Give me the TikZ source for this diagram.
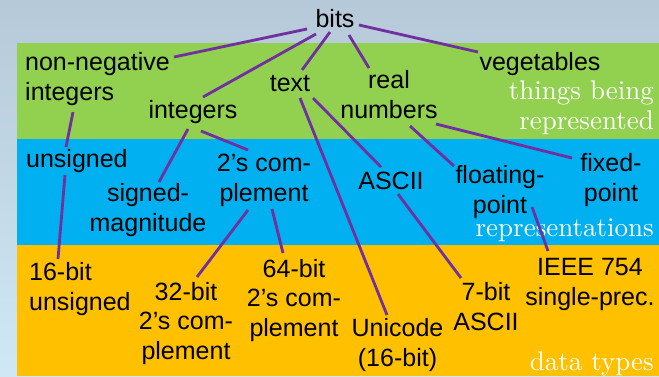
\documentclass[tikz,border=0pt]{standalone}
\usepackage{fontspec}
\newfontfamily\arialface{Liberation Sans}
\newfontfamily\romanface{lmroman10-regular.otf}
\usetikzlibrary{calc}
\definecolor{bandgreen}{RGB}{146,208,80}
\definecolor{bandblue}{RGB}{0,176,240}
\definecolor{bandorange}{RGB}{255,192,0}
\definecolor{linkpurple}{RGB}{112,48,160}
\definecolor{bgtop}{RGB}{182,201,216}
\definecolor{bgbottom}{RGB}{208,232,245}
\tikzset{
  concept/.style={font=\arialface\fontsize{25}{29.5}\selectfont, inner sep=0pt, align=center, anchor=base},
  conceptleft/.style={concept, align=left, anchor=base west},
  layername/.style={font=\romanface\fontsize{27}{30}\selectfont, text=white, inner sep=0pt, align=right, anchor=base east},
  link/.style={draw=linkpurple, line width=2.8pt},
}
\begin{document}
\begin{tikzpicture}[x=1pt, y=-1pt]
  \useasboundingbox (0,0) rectangle (659,376);
  % backdrop and the three layer bands
  \shade[top color=bgtop, bottom color=bgbottom] (0,0) rectangle (659,376);
  \fill[bandgreen]  (17,43)  rectangle (659,139);
  \fill[bandblue]   (17,139) rectangle (659,245);
  \fill[bandorange] (17,245) rectangle (659,376);

  % layer captions (node base = baseline of the last line)
  \node[layername] (things) at (654,129) {things being\\represented};
  \node[layername] (reps)   at (654,236) {representations};
  \node[layername] (dtypes) at (654,370) {data types};

  % root
  \node[concept] (bits) at (335,27) {bits};

  % things being represented
  \node[conceptleft] (nonneg) at (25,100) {non-negative\\integers};
  \node[concept] (ints) at (193,118) {integers};
  \node[concept] (text) at (290,91) {text};
  \node[concept] (real) at (389,118) {real\\numbers};
  \node[concept] (veg)  at (540,70) {vegetables};

  % representations
  \node[conceptleft] (unsigned) at (26,167) {unsigned};
  \node[concept] (signed)   at (148,231) {signed-\\magnitude};
  \node[concept] (twos)     at (264,201) {2’s com-\\plement};
  \node[concept] (ascii)    at (391,189) {ASCII};
  \node[concept] (floating) at (500,213) {floating-\\point};
  \node[concept] (fixed)    at (611,201) {fixed-\\point};

  % data types
  \node[conceptleft] (b16) at (29,310) {16-bit\\unsigned};
  \node[concept] (b32)     at (186,359) {32-bit\\2’s com-\\plement};
  \node[concept] (b64)     at (294,336) {64-bit\\2’s com-\\plement};
  \node[concept] (unicode) at (397.5,366) {Unicode\\(16-bit)};
  \node[concept] (a7)      at (486,330) {7-bit\\ASCII};
  \node[concept] (ieee)    at (590,305) {IEEE 754\\single-prec.};

  % links
  \draw[link] ([shift={(-28,2)}]bits.base) -- ([shift={(149,-43)}]nonneg.base west);
  \draw[link] ([shift={(-19,7)}]bits.base) -- ([shift={(10,-21)}]ints.base);
  \draw[link] ([shift={(-5,5)}]bits.base) -- ([shift={(12,-21)}]text.base);
  \draw[link] ([shift={(14,8)}]bits.base) -- ([shift={(-20,-50)}]real.base);
  \draw[link] ([shift={(24,-2)}]bits.base) -- ([shift={(-62,-18)}]veg.base);

  \draw[link] ([shift={(48,12)}]nonneg.base west) -- ([shift={(40,-20)}]unsigned.base west);
  \draw[link] ([shift={(-5,11)}]ints.base) -- ([shift={(11,-49)}]signed.base);
  \draw[link] ([shift={(8,13)}]ints.base) -- ([shift={(-16,-51)}]twos.base);
  \draw[link] ([shift={(10,7)}]text.base) -- ([shift={(-10.5,-51)}]unicode.base);
  \draw[link] ([shift={(23,7)}]text.base) -- ([shift={(-10,-22)}]ascii.base);
  \draw[link] ([shift={(21,8)}]real.base) -- ([shift={(-46,-47)}]floating.base);
  \draw[link] ([shift={(47,6)}]real.base) -- ([shift={(-39,-43)}]fixed.base);

  \draw[link] ([shift={(39,8)}]unsigned.base west) -- ([shift={(29,-51)}]b16.base west);
  \draw[link] ([shift={(-16,9)}]twos.base) -- ([shift={(11,-82)}]b32.base);
  \draw[link] ([shift={(8,8)}]twos.base) -- ([shift={(-11,-83)}]b64.base);
  \draw[link] ([shift={(7,5)}]ascii.base) -- ([shift={(-25,-52)}]a7.base);
  \draw[link] ([shift={(32,-6)}]floating.base) -- ([shift={(-42,-54)}]ieee.base);
\end{tikzpicture}
\end{document}
